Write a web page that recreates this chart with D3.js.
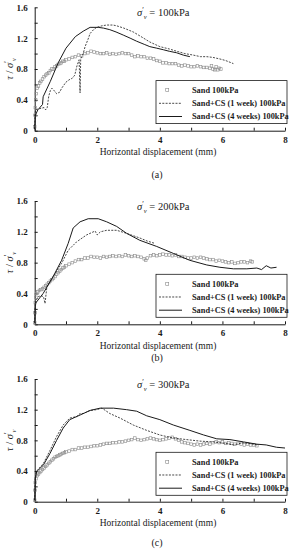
<!DOCTYPE html>
<html>
<head>
<meta charset="utf-8">
<script src="https://cdn.jsdelivr.net/npm/d3@7"></script>
<style>
  body{margin:0;background:#fff;}
  svg{display:block;font-family:"Liberation Serif","Times New Roman",serif;}
</style>
</head>
<body>
<div id="chart"></div>
<script>
// Scherversuche: tau/sigma'v über horizontale Verschiebung, drei Auflasten
const loads = ["100kPa","200kPa","300kPa"];
const captions = ["(a)","(b)","(c)"];
const legendLabels = ["Sand 100kPa","Sand+CS (1 week) 100kPa","Sand+CS (4 weeks) 100kPa"];
const xTicks = [0,2,4,6,8];
const yTicks = [0,0.4,0.8,1.2,1.6];

// [Verschiebung mm, tau/sigma]
const sandA = [[0,0.05],[0.01,0.2],[0.02,0.3],[0.03,0.4],[0.05,0.48],[0.08,0.55],[0.12,0.58],[0.16,0.62],[0.2,0.64],[0.25,0.67],[0.3,0.7],[0.35,0.72],[0.4,0.74],[0.45,0.75],[0.5,0.78],[0.55,0.8],[0.6,0.8],[0.65,0.83],[0.7,0.84],[0.75,0.86],[0.8,0.87],[0.85,0.88],[0.9,0.9],[0.95,0.9],[1.0,0.92],[1.1,0.93],[1.2,0.95],[1.3,0.96],[1.4,0.98],[1.5,0.97],[1.6,1.0],[1.7,1.01],[1.8,1.03],[1.9,1.02],[2.0,1.01],[2.1,1.0],[2.2,1.0],[2.3,1.01],[2.4,0.99],[2.5,1.0],[2.6,0.99],[2.7,1.0],[2.8,1.01],[2.9,1.0],[3.0,1.0],[3.1,0.98],[3.2,0.96],[3.3,0.97],[3.4,0.96],[3.5,0.96],[3.6,0.94],[3.7,0.94],[3.8,0.93],[3.9,0.91],[4.0,0.9],[4.1,0.88],[4.2,0.88],[4.3,0.87],[4.4,0.87],[4.5,0.87],[4.6,0.85],[4.7,0.84],[4.8,0.85],[4.9,0.84],[5.0,0.83],[5.1,0.83],[5.2,0.84],[5.3,0.83],[5.4,0.82],[5.5,0.82],[5.6,0.81],[5.65,0.84],[5.7,0.8],[5.75,0.79],[5.8,0.83],[5.85,0.79],[5.9,0.81],[5.95,0.8]];
const oneWeekA = [[0,0.02],[0.01,0.22],[0.03,0.27],[0.1,0.28],[0.2,0.29],[0.3,0.3],[0.35,0.27],[0.4,0.3],[0.45,0.45],[0.5,0.52],[0.55,0.55],[0.6,0.53],[0.7,0.48],[0.8,0.5],[0.86,0.55],[1.0,0.63],[1.1,0.66],[1.2,0.68],[1.28,0.72],[1.35,0.84],[1.42,0.92],[1.45,0.49],[1.47,0.93],[1.55,1.0],[1.61,1.09],[1.7,1.18],[1.77,1.26],[1.88,1.31],[1.98,1.34],[2.15,1.36],[2.3,1.37],[2.5,1.37],[2.62,1.36],[2.85,1.33],[3.15,1.28],[3.4,1.22],[3.68,1.15],[4.0,1.09],[4.3,1.06],[4.54,1.03],[4.8,1.0],[5.07,0.98],[5.3,0.96],[5.5,0.96],[5.7,0.95],[5.92,0.93],[6.1,0.91],[6.35,0.87]];
const fourWeeksA = [[0,0.02],[0.02,0.2],[0.1,0.27],[0.25,0.34],[0.27,0.44],[0.5,0.64],[0.75,0.88],[1.0,1.07],[1.3,1.22],[1.55,1.29],[1.77,1.34],[2.03,1.34],[2.2,1.33],[2.4,1.31],[2.6,1.28],[2.83,1.24],[3.05,1.2],[3.26,1.16],[3.5,1.12],[3.68,1.09],[3.9,1.07],[4.11,1.05],[4.3,1.03],[4.54,1.01],[4.75,0.98],[4.96,0.96]];

const sandB = [[0,0.02],[0.01,0.15],[0.02,0.28],[0.04,0.35],[0.07,0.4],[0.1,0.42],[0.15,0.44],[0.2,0.45],[0.25,0.46],[0.3,0.48],[0.35,0.5],[0.4,0.52],[0.45,0.54],[0.5,0.56],[0.55,0.58],[0.6,0.6],[0.65,0.62],[0.7,0.65],[0.75,0.67],[0.8,0.69],[0.85,0.71],[0.9,0.73],[0.95,0.74],[1.0,0.76],[1.1,0.78],[1.2,0.8],[1.3,0.82],[1.4,0.84],[1.5,0.84],[1.6,0.86],[1.7,0.86],[1.8,0.88],[1.9,0.87],[2.0,0.87],[2.1,0.86],[2.2,0.88],[2.3,0.87],[2.4,0.88],[2.5,0.89],[2.6,0.88],[2.7,0.89],[2.8,0.88],[2.9,0.9],[3.0,0.89],[3.1,0.88],[3.2,0.89],[3.3,0.88],[3.4,0.87],[3.5,0.85],[3.55,0.83],[3.6,0.86],[3.7,0.89],[3.8,0.9],[3.9,0.89],[4.0,0.9],[4.1,0.91],[4.2,0.9],[4.3,0.9],[4.4,0.89],[4.5,0.9],[4.6,0.88],[4.7,0.88],[4.8,0.87],[4.9,0.86],[5.0,0.86],[5.1,0.87],[5.2,0.86],[5.3,0.87],[5.4,0.86],[5.5,0.85],[5.6,0.84],[5.7,0.84],[5.8,0.82],[5.9,0.83],[6.0,0.82],[6.1,0.81],[6.2,0.8],[6.3,0.81],[6.4,0.79],[6.5,0.8],[6.6,0.81],[6.7,0.81],[6.8,0.8],[6.9,0.82],[6.95,0.81]];
const oneWeekB = [[0,0.02],[0.01,0.2],[0.03,0.3],[0.12,0.36],[0.2,0.37],[0.28,0.36],[0.33,0.27],[0.39,0.49],[0.59,0.62],[0.86,0.79],[1.07,0.96],[1.34,1.07],[1.66,1.16],[1.93,1.21],[2.0,1.16],[2.1,1.2],[2.3,1.22],[2.62,1.22],[2.94,1.18],[3.15,1.15],[3.36,1.12],[3.6,1.08],[3.84,1.05]];
const fourWeeksB = [[0,0.02],[0.02,0.27],[0.27,0.4],[0.59,0.62],[0.86,0.83],[1.07,1.05],[1.23,1.25],[1.45,1.33],[1.71,1.37],[2.03,1.37],[2.3,1.33],[2.62,1.27],[2.94,1.18],[3.36,1.09],[3.9,1.01],[4.43,0.92],[4.96,0.83],[5.5,0.77],[5.92,0.74],[6.35,0.72],[6.78,0.72],[7.1,0.73],[7.25,0.71],[7.4,0.76],[7.55,0.73],[7.73,0.74]];

const sandC = [[0,0.02],[0.01,0.15],[0.02,0.25],[0.04,0.3],[0.08,0.34],[0.12,0.36],[0.16,0.38],[0.2,0.4],[0.25,0.42],[0.3,0.44],[0.35,0.46],[0.4,0.48],[0.45,0.5],[0.5,0.52],[0.55,0.54],[0.6,0.56],[0.65,0.58],[0.7,0.59],[0.75,0.6],[0.8,0.61],[0.85,0.62],[0.9,0.63],[0.95,0.64],[1.0,0.65],[1.1,0.66],[1.2,0.68],[1.3,0.68],[1.4,0.7],[1.5,0.7],[1.6,0.71],[1.7,0.71],[1.8,0.72],[1.9,0.73],[2.0,0.73],[2.1,0.74],[2.2,0.75],[2.3,0.76],[2.4,0.76],[2.5,0.77],[2.6,0.77],[2.7,0.78],[2.8,0.78],[2.9,0.79],[3.0,0.8],[3.1,0.81],[3.2,0.83],[3.3,0.81],[3.4,0.8],[3.5,0.81],[3.6,0.82],[3.7,0.83],[3.8,0.82],[3.9,0.81],[4.0,0.8],[4.1,0.81],[4.2,0.82],[4.3,0.83],[4.4,0.84],[4.5,0.82],[4.6,0.8],[4.7,0.78],[4.8,0.77],[4.9,0.76],[5.0,0.75],[5.1,0.74],[5.2,0.75],[5.3,0.74],[5.4,0.75],[5.5,0.76],[5.6,0.75],[5.7,0.77],[5.8,0.78],[5.9,0.77],[6.0,0.78],[6.1,0.76],[6.2,0.77],[6.3,0.76],[6.4,0.75],[6.5,0.76],[6.6,0.75],[6.7,0.74],[6.8,0.75],[6.9,0.74],[7.0,0.74],[7.1,0.73]];
const oneWeekC = [[0,0.02],[0.02,0.3],[0.06,0.4],[0.28,0.5],[0.49,0.67],[0.7,0.85],[0.91,1.0],[1.12,1.09],[1.34,1.11],[1.45,1.15],[1.55,1.15],[1.77,1.19],[1.98,1.2],[2.15,1.22],[2.4,1.15],[2.73,1.09],[3.15,1.0],[3.58,0.93],[4.0,0.87],[4.43,0.83],[4.85,0.81],[5.28,0.79],[5.71,0.78],[6.1,0.76],[6.35,0.74],[6.67,0.77],[7.0,0.75],[7.1,0.74]];
const fourWeeksC = [[0,0.02],[0.02,0.3],[0.06,0.39],[0.28,0.48],[0.49,0.63],[0.7,0.8],[0.91,0.96],[1.12,1.07],[1.45,1.13],[1.77,1.19],[2.09,1.22],[2.52,1.22],[2.94,1.2],[3.26,1.18],[3.58,1.12],[4.0,1.07],[4.43,1.0],[4.96,0.93],[5.4,0.87],[5.82,0.82],[6.24,0.81],[6.67,0.78],[7.1,0.75],[7.4,0.74],[7.73,0.71],[8.0,0.7]];

const sandSets = [sandA, sandB, sandC];
const oneWeekSets = [oneWeekA, oneWeekB, oneWeekC];
const fourWeekSets = [fourWeeksA, fourWeeksB, fourWeeksC];

// Layout je Panel (Plot oben/unten, Bildunterschrift)
const frames = [{top:7.3, bottom:130.7, cap:177.5}, {top:201, bottom:324.3, cap:361}, {top:379, bottom:501.7, cap:546}];

const W = 297, H = 550;
const svg = d3.select("#chart").append("svg").attr("width",W).attr("height",H);
const x = d3.scaleLinear().domain([0,8]).range([34.7,285]);
const ink = "#1a1a1a";

frames.forEach((f,i)=>{
  const y = d3.scaleLinear().domain([0,1.6]).range([f.bottom,f.top]);
  const g = svg.append("g");

  // Achsen, Ticks nach innen
  g.append("g").attr("transform",`translate(0,${f.bottom})`)
    .call(d3.axisBottom(x).tickValues(d3.range(0,9,1)).tickSizeInner(-3).tickSizeOuter(0).tickFormat(d=>xTicks.includes(d)?d:""))
    .call(a=>a.select(".domain").attr("stroke",ink))
    .call(a=>a.selectAll("line").attr("stroke",ink))
    .call(a=>a.selectAll("text").attr("dy",null).attr("y",12).attr("font-size",9).attr("font-weight","bold").attr("font-family","Liberation Serif").attr("fill",ink));
  g.append("g").attr("transform",`translate(${x(0)},0)`)
    .call(d3.axisLeft(y).tickValues(d3.range(0,1.61,0.2)).tickSizeInner(-3).tickSizeOuter(0).tickPadding(7).tickFormat(d=>{const r=Math.round(d*10)/10;return yTicks.includes(r)?(r===0?"0":r.toFixed(1)):"";}))
    .call(a=>a.select(".domain").attr("stroke",ink))
    .call(a=>a.selectAll("line").attr("stroke",ink))
    .call(a=>a.selectAll("text").attr("font-size",9).attr("font-weight","bold").attr("font-family","Liberation Serif").attr("fill",ink));

  // Sand als Quadrate
  g.append("g").selectAll("rect").data(sandSets[i]).join("rect")
    .attr("x",d=>x(d[0])-1.3).attr("y",d=>y(d[1])-1.3).attr("width",2.6).attr("height",2.6)
    .attr("fill","none").attr("stroke","#8a8a8a").attr("stroke-width",0.6);

  const line = d3.line().x(d=>x(d[0])).y(d=>y(d[1]));
  g.append("path").attr("d",line(oneWeekSets[i])).attr("fill","none").attr("stroke",ink).attr("stroke-width",0.8).attr("stroke-dasharray","2,1.3");
  g.append("path").attr("d",line(fourWeekSets[i])).attr("fill","none").attr("stroke",ink).attr("stroke-width",1);

  // Titel sigma'v (ein Textelement, Index hinter dem Strich)
  const t = g.append("text").attr("x",137).attr("y",f.top+9).attr("font-size",10.5).attr("fill",ink);
  t.append("tspan").attr("font-style","italic").text("σ");
  t.append("tspan").attr("font-size",7.5).attr("dy",-3.5).text("′");
  t.append("tspan").attr("font-size",6.5).attr("font-style","italic").attr("dy",6).text("v");
  t.append("tspan").attr("dy",-2.5).text(" = " + loads[i]);

  // y-Achsenbeschriftung
  const yl = g.append("text").attr("transform",`translate(13,${(f.top+f.bottom)/2}) rotate(-90)`).attr("text-anchor","middle").attr("font-size",10.5).attr("fill",ink);
  yl.append("tspan").attr("font-style","italic").text("τ");
  yl.append("tspan").text(" / ");
  yl.append("tspan").attr("font-style","italic").text("σ");
  yl.append("tspan").attr("font-size",7.5).attr("dy",-3.5).text("′");
  yl.append("tspan").attr("font-size",6.5).attr("font-style","italic").attr("dy",6).text("v");

  g.append("text").attr("x",158).attr("y",f.bottom+24.5).attr("text-anchor","middle").attr("font-size",9.5).attr("fill",ink).text("Horizontal displacement (mm)");
  g.append("text").attr("x",157).attr("y",f.cap).attr("text-anchor","middle").attr("font-size",10).attr("fill",ink).text(captions[i]);

  // Legende
  const lg = g.append("g").attr("transform",`translate(156,${f.top+73.3})`);
  lg.append("rect").attr("width",131).attr("height",43).attr("fill","#fff").attr("stroke",ink).attr("stroke-width",0.8);
  legendLabels.forEach((lab,k)=>{
    const yy = 9.5 + k*13.2;
    if(k===0) lg.append("rect").attr("x",9.7).attr("y",yy-1.5).attr("width",3).attr("height",3).attr("fill","none").attr("stroke","#8a8a8a").attr("stroke-width",0.6);
    else lg.append("line").attr("x1",3).attr("x2",26).attr("y1",yy).attr("y2",yy).attr("stroke",ink)
      .attr("stroke-width",k===1?0.8:1).attr("stroke-dasharray",k===1?"2,1.3":null);
    lg.append("text").attr("x",36).attr("y",yy+3).attr("font-size",8.3).attr("font-weight","bold").attr("fill",ink).text(lab);
  });
});
</script>
</body>
</html>
